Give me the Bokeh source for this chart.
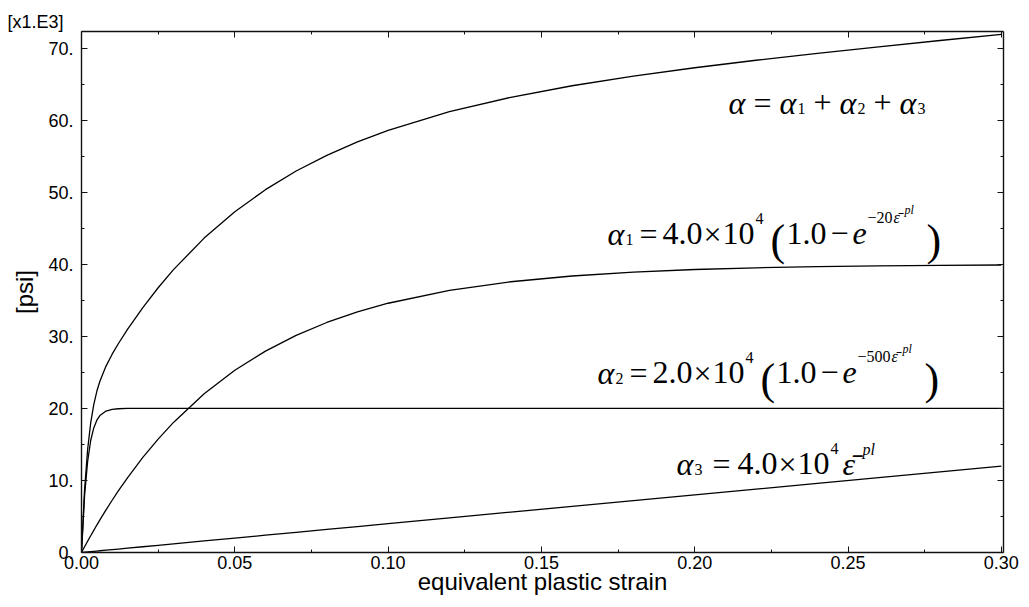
from bokeh.plotting import figure
from bokeh.models import (Range1d, LinearAxis, FixedTicker, PrintfTickFormatter,
                          CustomJSTickFormatter, Label)
from bokeh.embed import file_html
from bokeh.resources import INLINE

# ---------------- data (values in 1e3 psi) ----------------
strain = [0, 0.001, 0.002, 0.003, 0.004, 0.005, 0.006, 0.008, 0.010, 0.012, 0.015,
          0.02, 0.025, 0.03, 0.04, 0.05, 0.06, 0.07, 0.08, 0.09, 0.10,
          0.12, 0.14, 0.16, 0.18, 0.20, 0.22, 0.24, 0.26, 0.28, 0.30]
alpha1 = [0, 0.79, 1.57, 2.33, 3.08, 3.81, 4.52, 5.91, 7.25, 8.54, 10.37,
          13.19, 15.74, 18.05, 22.03, 25.29, 27.95, 30.14, 31.92, 33.39, 34.59,
          36.37, 37.57, 38.37, 38.91, 39.27, 39.51, 39.67, 39.78, 39.85, 39.90]
alpha2 = [0, 7.87, 12.64, 15.54, 17.29, 18.36, 19.00, 19.63, 19.87, 19.95, 19.99,
          20.0, 20.0, 20.0, 20.0, 20.0, 20.0, 20.0, 20.0, 20.0, 20.0,
          20.0, 20.0, 20.0, 20.0, 20.0, 20.0, 20.0, 20.0, 20.0, 20.0]
alpha3 = [0, 0.04, 0.08, 0.12, 0.16, 0.20, 0.24, 0.32, 0.40, 0.48, 0.60,
          0.80, 1.00, 1.20, 1.60, 2.00, 2.40, 2.80, 3.20, 3.60, 4.00,
          4.80, 5.60, 6.40, 7.20, 8.00, 8.80, 9.60, 10.40, 11.20, 12.00]
alpha_total = [0, 8.70, 14.29, 17.99, 20.53, 22.37, 23.77, 25.87, 27.52, 28.97, 30.96,
               33.99, 36.74, 39.25, 43.63, 47.29, 50.35, 52.94, 55.12, 56.99, 58.59,
               61.17, 63.17, 64.77, 66.11, 67.27, 68.31, 69.27, 70.18, 71.05, 71.90]

x_ticks = [0.0, 0.05, 0.10, 0.15, 0.20, 0.25, 0.30]
x_minor = [0.025, 0.075, 0.125, 0.175, 0.225, 0.275]
y_ticks = [0, 10, 20, 30, 40, 50, 60, 70]
y_minor = [5, 15, 25, 35, 45, 55, 65]

x_label = "equivalent plastic strain"
y_label = "[psi]"
scale_label = "[x1.E3]"

# ---------------- layout ----------------
X_MAX, Y_MAX = 0.3007, 72.3
FL, FT, FW, FH = 81, 31, 922, 521   # frame left / top / width / height in px
FB = FT + FH

def dx(px):
    return (px - FL) / FW * X_MAX

def dy(py):
    return (FB - py) / FH * Y_MAX

p = figure(width=1029, height=607, x_range=Range1d(0, X_MAX), y_range=Range1d(0, Y_MAX),
           output_backend="svg", toolbar_location=None,
           x_axis_type=None, y_axis_type=None,
           min_border_left=FL, min_border_right=1029 - FL - FW,
           min_border_top=FT, min_border_bottom=607 - FB)
p.outline_line_color = None
p.background_fill_color = "white"
p.border_fill_color = "white"

SANS = "Liberation Sans"
SERIF = "Liberation Serif"

p.title.text = scale_label
p.title.align = "left"
p.title.offset = -74
p.title.standoff = 0
p.title.text_font = SANS
p.title.text_font_size = "18px"
p.title.text_font_style = "normal"
p.title.text_color = "black"

def style_axis(ax, labels=True):
    ax.axis_line_color = "#111111"
    ax.axis_line_width = 1.4
    ax.major_tick_line_color = "#111111"
    ax.minor_tick_line_color = "#111111"
    ax.major_tick_in = 6
    ax.major_tick_out = 0
    ax.minor_tick_in = 3
    ax.minor_tick_out = 0
    ax.major_label_text_font = SANS
    ax.major_label_text_font_size = "18px"
    ax.major_label_text_color = "black"
    ax.axis_label_text_font = SANS
    ax.axis_label_text_font_size = "24px"
    ax.axis_label_text_font_style = "normal"
    ax.axis_label_text_color = "black"
    if not labels:
        ax.formatter = CustomJSTickFormatter(code="return ''")
        ax.major_label_text_font_size = "0px"
        ax.major_label_standoff = 0

xb = LinearAxis(ticker=FixedTicker(ticks=x_ticks, minor_ticks=x_minor),
                formatter=PrintfTickFormatter(format="%.2f"), axis_label=x_label)
style_axis(xb)
xb.major_label_standoff = 3
xb.axis_label_standoff = -4
p.add_layout(xb, "below")

yl = LinearAxis(ticker=FixedTicker(ticks=y_ticks, minor_ticks=y_minor),
                formatter=PrintfTickFormatter(format="%d."), axis_label=y_label)
style_axis(yl)
yl.major_label_standoff = 8
yl.axis_label_standoff = 7
p.add_layout(yl, "left")

xt = LinearAxis(ticker=FixedTicker(ticks=x_ticks, minor_ticks=x_minor))
style_axis(xt, labels=False)
p.add_layout(xt, "above")

yr = LinearAxis(ticker=FixedTicker(ticks=y_ticks, minor_ticks=y_minor))
style_axis(yr, labels=False)
p.add_layout(yr, "right")

# ---------------- curves ----------------
for ys in (alpha_total, alpha1, alpha2, alpha3):
    p.line(strain, ys, line_color="black", line_width=1.3)

# ---------------- formulas ----------------
MAIN, SUB, SUP, SUP2, PAREN = 32, 16, 16, 12, 44

def piece(text, px, py, size, italic=False):
    p.add_layout(Label(x=dx(px), y=dy(py), text=text, text_font=SERIF,
                       text_font_size=f"{size}px",
                       text_font_style="italic" if italic else "normal",
                       text_baseline="alphabetic", text_align="left", text_color="black"))

def formula_sum(x0, b):
    piece("α", x0, b, MAIN, True)
    piece("=", x0 + 25, b, MAIN)
    piece("α", x0 + 51, b, MAIN, True)
    piece("1", x0 + 69, b + 6, SUB)
    piece("+", x0 + 85, b, MAIN)
    piece("α", x0 + 111, b, MAIN, True)
    piece("2", x0 + 129, b + 6, SUB)
    piece("+", x0 + 145, b, MAIN)
    piece("α", x0 + 171, b, MAIN, True)
    piece("3", x0 + 189, b + 6, SUB)

def formula_exp(x0, b, idx, coef, rate, extra):
    piece("α", x0, b, MAIN, True)
    piece(idx, x0 + 18, b + 6, SUB)
    piece("=", x0 + 32, b, MAIN)
    piece(coef, x0 + 55, b, MAIN)
    piece("×", x0 + 96, b, MAIN)
    piece("10", x0 + 115, b, MAIN)
    piece("4", x0 + 148, b - 15, SUP)
    piece("(", x0 + 163, b + 7, PAREN)
    piece("1.0", x0 + 179, b, MAIN)
    piece("−", x0 + 223, b, MAIN)
    piece("e", x0 + 245, b, MAIN, True)
    piece("−" + rate, x0 + 260, b - 16, SUP)
    piece("ε\u0304", x0 + 286 + extra, b - 16, SUP, True)
    piece("pl", x0 + 297 + extra, b - 24, SUP2, True)
    piece(")", x0 + 319 + extra, b + 7, PAREN)

def formula_lin(x0, b):
    piece("α", x0, b, MAIN, True)
    piece("3", x0 + 18, b + 6, SUB)
    piece("=", x0 + 36, b, MAIN)
    piece("4.0", x0 + 61, b, MAIN)
    piece("×", x0 + 102, b, MAIN)
    piece("10", x0 + 121, b, MAIN)
    piece("4", x0 + 154, b - 15, SUP)
    piece("ε\u0304", x0 + 166, b, MAIN, True)
    piece("pl", x0 + 186, b - 14, SUP, True)

formula_sum(728, 102)
formula_exp(607, 233, "1", "4.0", "20", 0)
formula_exp(597, 372, "2", "2.0", "500", 8)
formula_lin(676, 463)

open("out.html", "w").write(file_html(p, INLINE))
